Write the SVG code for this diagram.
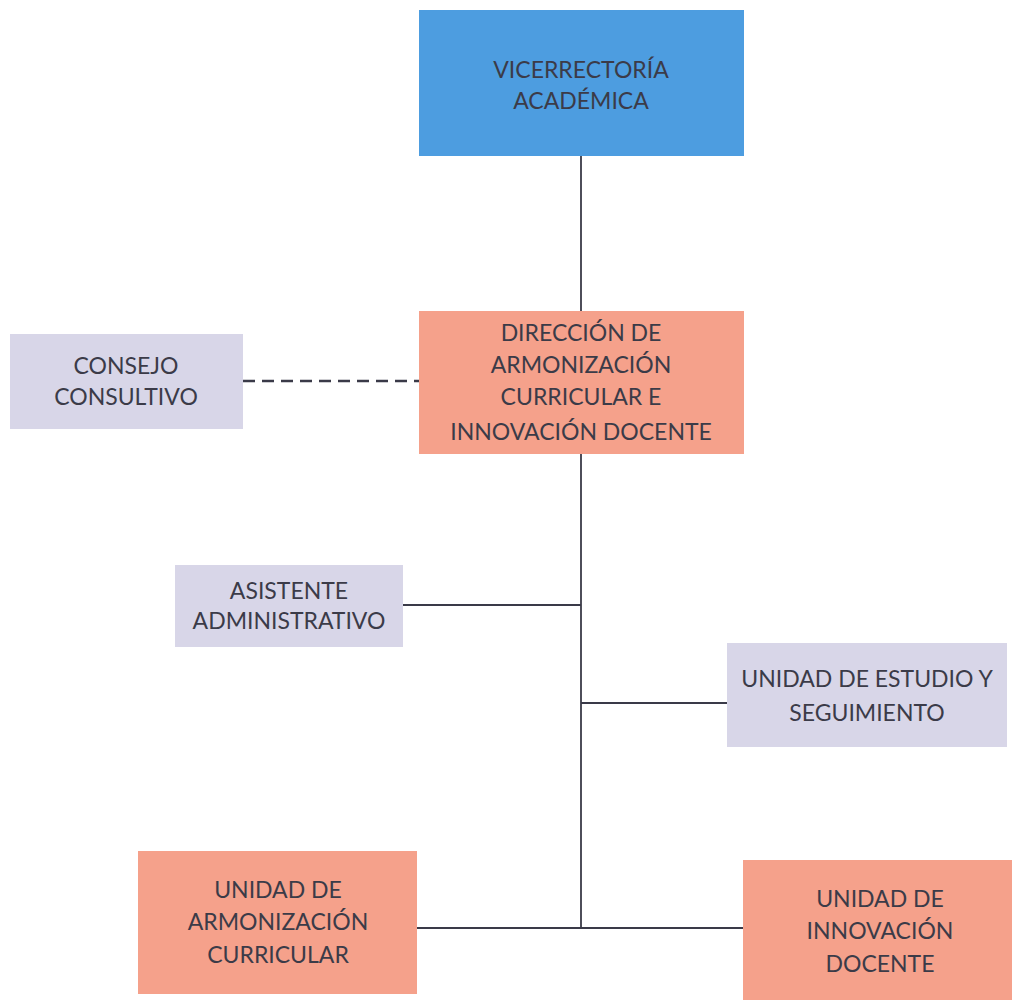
<svg xmlns="http://www.w3.org/2000/svg" width="1012" height="1000" viewBox="0 0 1012 1000">
<style>
.t{font-family:"Lato","Open Sans","Liberation Sans",sans-serif;font-size:23px;fill:#3b3b48;text-anchor:middle}
.blue{fill:#4d9de0}
.sal{fill:#f5a18b}
.lav{fill:#d8d6e8}
.ln{stroke:#3a3a48;stroke-width:1.8;fill:none}
.dash{stroke:#3a3a48;stroke-width:2.4;fill:none;stroke-dasharray:12,7}
</style>
<rect width="1012" height="1000" fill="#ffffff"/>
<g id="connectors">
<line class="ln" x1="581" y1="156" x2="581" y2="311"/>
<line class="ln" x1="581" y1="454" x2="581" y2="928"/>
<line class="dash" x1="243" y1="381" x2="419" y2="381"/>
<line class="ln" x1="403" y1="605" x2="581" y2="605"/>
<line class="ln" x1="581" y1="703" x2="727" y2="703"/>
<line class="ln" x1="417" y1="928" x2="743" y2="928"/>
</g>
<g id="vicerrectoria">
<rect class="blue" x="419" y="10" width="325" height="146"/>
<text class="t" x="581" y="78">VICERRECTORÍA</text>
<text class="t" x="581" y="109">ACADÉMICA</text>
</g>
<g id="direccion">
<rect class="sal" x="419" y="311" width="325" height="143"/>
<text class="t" x="581" y="341">DIRECCIÓN DE</text>
<text class="t" x="581" y="373">ARMONIZACIÓN</text>
<text class="t" x="581" y="405">CURRICULAR E</text>
<text class="t" x="581" y="440">INNOVACIÓN DOCENTE</text>
</g>
<g id="consejo">
<rect class="lav" x="10" y="334" width="233" height="95"/>
<text class="t" x="126" y="374">CONSEJO</text>
<text class="t" x="126" y="405">CONSULTIVO</text>
</g>
<g id="asistente">
<rect class="lav" x="175" y="565" width="228" height="82"/>
<text class="t" x="289" y="599">ASISTENTE</text>
<text class="t" x="289" y="629">ADMINISTRATIVO</text>
</g>
<g id="estudio">
<rect class="lav" x="727" y="643" width="280" height="104"/>
<text class="t" x="867" y="687">UNIDAD DE ESTUDIO Y</text>
<text class="t" x="867" y="721">SEGUIMIENTO</text>
</g>
<g id="armonizacion">
<rect class="sal" x="138" y="851" width="279" height="143"/>
<text class="t" x="278" y="898">UNIDAD DE</text>
<text class="t" x="278" y="930">ARMONIZACIÓN</text>
<text class="t" x="278" y="963">CURRICULAR</text>
</g>
<g id="innovacion">
<rect class="sal" x="743" y="860" width="269" height="140"/>
<text class="t" x="880" y="907">UNIDAD DE</text>
<text class="t" x="880" y="939">INNOVACIÓN</text>
<text class="t" x="880" y="972">DOCENTE</text>
</g>
</svg>
